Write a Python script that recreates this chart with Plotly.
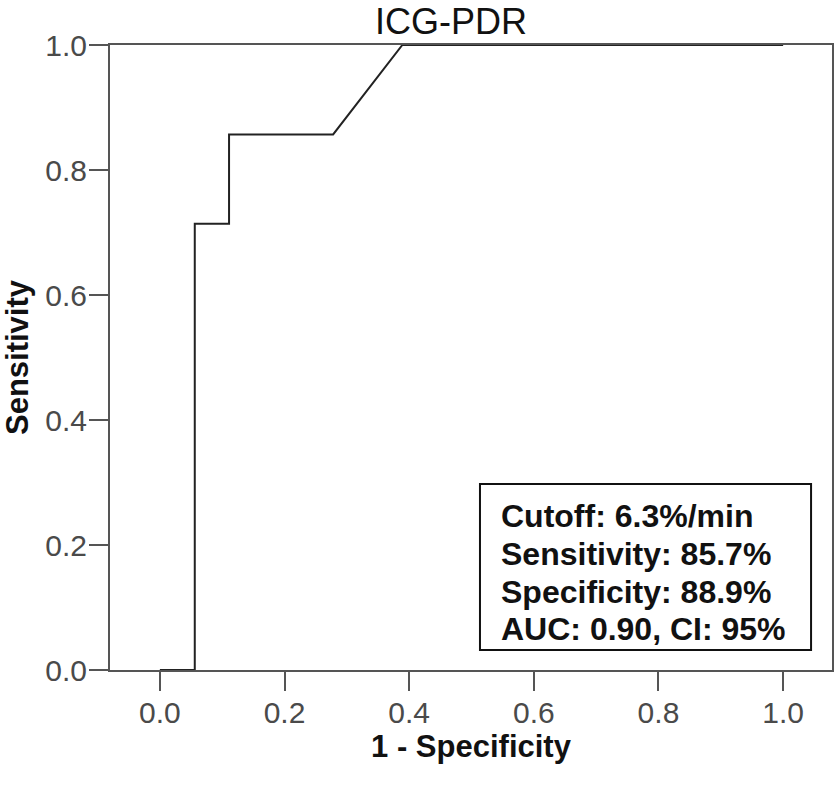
import plotly.graph_objects as go

# ROC curve points
fpr = [0.0, 0.056, 0.056, 0.111, 0.111, 0.278, 0.389, 1.0]
tpr = [0.0, 0.0, 0.714, 0.714, 0.857, 0.857, 1.0, 1.0]

tick_vals = [0.0, 0.2, 0.4, 0.6, 0.8, 1.0]
tick_text = ["0.0", "0.2", "0.4", "0.6", "0.8", "1.0"]

stats_lines = [
    "Cutoff: 6.3%/min",
    "Sensitivity: 85.7%",
    "Specificity: 88.9%",
    "AUC: 0.90, CI: 95%",
]

W, H = 836, 785
ML, MR, MT, MB = 110, 2, 45, 115
PW, PH = W - ML - MR, H - MT - MB

def px_x(p):
    return (p - ML) / PW

def px_y(p):
    return (H - MB - p) / PH

FONT = "Liberation Sans, Arial, sans-serif"

fig = go.Figure()
fig.add_trace(go.Scatter(
    x=fpr, y=tpr, mode="lines",
    line=dict(color="#222222", width=2),
    showlegend=False, hoverinfo="x+y",
))

axis_common = dict(
    showgrid=False, zeroline=False, showline=True, mirror=True,
    linecolor="#555555", linewidth=2,
    ticks="outside", ticklen=19, tickwidth=2, tickcolor="#555555",
    tickvals=tick_vals, ticktext=tick_text,
    tickfont=dict(family=FONT, size=30, color="#4a4a4a"),
)

fig.update_xaxes(
    range=[-0.08, 1.0784], **axis_common, ticklabelstandoff=-4,
    title=dict(text="<b>1 - Specificity</b>", standoff=2,
               font=dict(family=FONT, size=31, color="#111111")),
)
fig.update_yaxes(
    range=[0, 1], **axis_common, ticklabelstandoff=-4,
    title=dict(text="<b>Sensitivity</b>", standoff=8,
               font=dict(family=FONT, size=31, color="#111111")),
)

# stats box
fig.add_shape(type="rect", xref="paper", yref="paper",
              x0=px_x(481), x1=px_x(813), y0=px_y(650), y1=px_y(484),
              line=dict(color="#111111", width=2), fillcolor="white", layer="above")

line_centers = [516, 554, 592, 629]
for txt, cy in zip(stats_lines, line_centers):
    fig.add_annotation(
        text=f"<b>{txt}</b>", xref="paper", yref="paper",
        x=px_x(500), y=px_y(cy), xanchor="left", yanchor="middle",
        showarrow=False,
        font=dict(family=FONT, size=32, color="#111111"),
    )

fig.update_layout(
    width=W, height=H,
    margin=dict(l=ML, r=MR, t=MT, b=MB),
    paper_bgcolor="white", plot_bgcolor="white",
    title=dict(text="ICG-PDR", xref="paper", x=px_x(452), xanchor="center",
               yref="container", y=1 - 21 / H, yanchor="middle",
               font=dict(family=FONT, size=36, color="#111111")),
)

fig.write_html("out.html",
               config={"displayModeBar": False},
               post_script="document.body.style.margin='0';document.body.style.overflow='hidden';")
